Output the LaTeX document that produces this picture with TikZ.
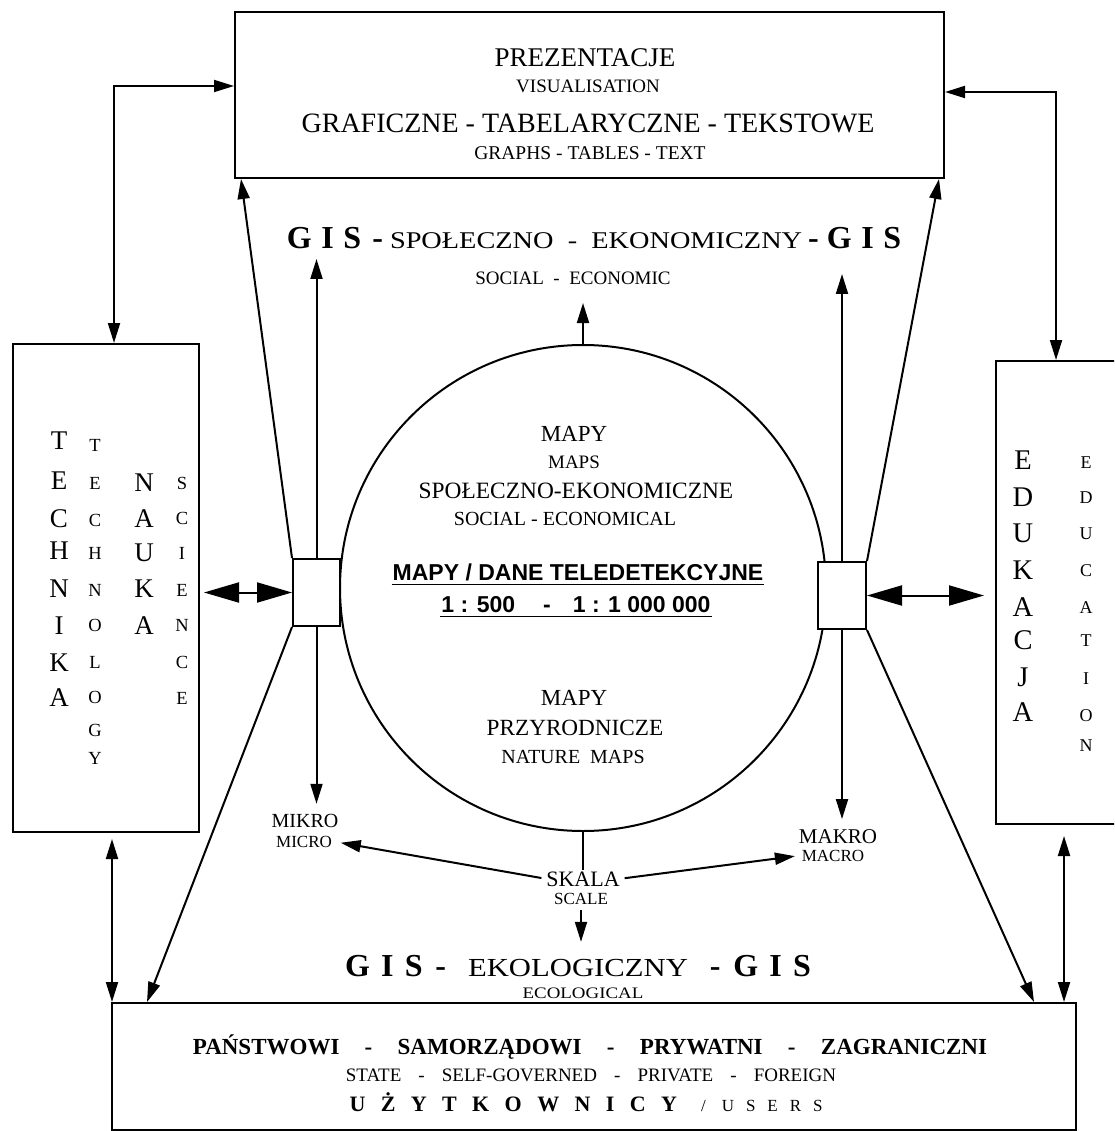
\documentclass[tikz,border=0pt]{standalone}
\usepackage{fontspec}
\setmainfont{Liberation Serif}
\newfontfamily\sansbold{Liberation Sans}
\newfontfamily\wideserif[FakeStretch=1.18]{Liberation Serif}
\newfontfamily\spacedserif[LetterSpace=70]{Liberation Serif}
\usetikzlibrary{positioning,arrows.meta}

\newcommand{\fs}[1]{\fontsize{#1}{#1}\selectfont}

\begin{document}
\begin{tikzpicture}[x=1pt,y=-1pt,line width=2pt,>={Triangle[length=20pt,width=12pt]},
  box/.style={draw,line width=2pt,inner sep=0pt},
  lbl/.style={inner sep=0pt,anchor=base,text depth=0pt},
  fat/.style={{Triangle[length=35pt,width=20pt]}-{Triangle[length=35pt,width=20pt]}}]
\useasboundingbox (0,0) rectangle (1114,1131);
\clip (0,0) rectangle (1114,1131);
% boxes
\node[box,minimum width=709pt,minimum height=166pt] (top) at (589.5,95) {};
\node[box,minimum width=186pt,minimum height=488pt] (tech) at (106,588) {};
\node[box,minimum width=120pt,minimum height=463pt] (edu) at (1056,592.5) {};
\node[box,minimum width=964pt,minimum height=127pt] (users) at (594,1066.5) {};
\node[draw,circle,minimum size=486pt,inner sep=0pt] (circ) at (583,588) {};
\node[box,fill=white,minimum width=47pt,minimum height=67pt] (lhub) at (316.5,592.5) {};
\node[box,fill=white,minimum width=48pt,minimum height=67pt] (rhub) at (842,595.5) {};
% top box
\node[lbl,font=\fs{27}] (prez) at (585,67) {PREZENTACJE};
\node[lbl,font=\fs{19}] (vis) at (588,93) {VISUALISATION};
\node[lbl,font=\fs{28}] (graf) at (588,132.5) {GRAFICZNE - TABELARYCZNE - TEKSTOWE};
\node[lbl,font=\fs{19.5}] (graphs) at (590,159.5) {GRAPHS - TABLES - TEXT};
% GIS lines
\node[lbl] (gisup) at (594,249) {{\fs{32}\bfseries G\hspace{.3em}I\hspace{.3em}S\hspace{.35em}-}\hspace{7pt}{\wideserif\fs{24}SPOŁECZNO\ \ -\ \ EKONOMICZNY}\hspace{6pt}{\fs{32}\bfseries -\hspace{.25em}G\hspace{.3em}I\hspace{.3em}S}};
\node[lbl,font=\fs{19}] (soc) at (573,285) {SOCIAL\ \ -\ \ ECONOMIC};
\node[lbl] (ekol) at (578,976) {{\fs{32}\bfseries G\hspace{.35em}I\hspace{.35em}S\hspace{.4em}-}\hspace{22pt}{\wideserif\fs{26}EKOLOGICZNY}\hspace{22pt}{\fs{32}\bfseries -\hspace{.4em}G\hspace{.35em}I\hspace{.35em}S}};
\node[lbl,font=\wideserif\fs{16}] (ecol) at (583,998) {ECOLOGICAL};
% circle
\node[lbl,font=\fs{23}] (mapy1) at (574,441) {MAPY};
\node[lbl,font=\fs{19}] (maps) at (574,468) {MAPS};
\node[lbl,font=\fs{23.4}] (spol) at (576,498) {SPOŁECZNO-EKONOMICZNE};
\node[lbl,font=\fs{20}] (socl) at (565,525) {SOCIAL - ECONOMICAL};
\node[lbl,font=\sansbold\bfseries\fs{23}] (tele) at (578,580) {MAPY / DANE TELEDETEKCYJNE};
\node[lbl,font=\sansbold\bfseries\fs{23}] (range) at (576,612) {1 : 500\hspace{28pt}-\hspace{22pt}1 : 1 000 000};
\draw[line width=1.6pt] ([yshift=-3.5pt]tele.south west) -- ([yshift=-3.5pt]tele.south east);
\draw[line width=1.6pt] ([yshift=-3.5pt]range.south west) -- ([yshift=-3.5pt]range.south east);
\node[lbl,font=\fs{23}] (mapy2) at (574,705) {MAPY};
\node[lbl,font=\fs{23.2}] (przyr) at (575,735) {PRZYRODNICZE};
\node[lbl,font=\fs{20}] (nature) at (573,763) {NATURE\ \ MAPS};
% scale
\node[lbl,font=\fs{20}] (mikro) at (305,827) {MIKRO};
\node[lbl,font=\fs{17}] (micro) at (304,847) {MICRO};
\node[lbl,font=\fs{21}] (makro) at (838,843) {MAKRO};
\node[lbl,font=\fs{17}] (macro) at (833,861) {MACRO};
\node[lbl,font=\fs{22}] (skala) at (583,886) {SKALA};
\node[lbl,font=\fs{17}] (scale) at (581,904) {SCALE};
% users box
\node[lbl,font=\fs{23}\bfseries] (who) at (590,1054) {PAŃSTWOWI\hspace{1.1em}-\hspace{1.1em}SAMORZĄDOWI\hspace{1.1em}-\hspace{1.1em}PRYWATNI\hspace{1.1em}-\hspace{1.1em}ZAGRANICZNI};
\node[lbl,font=\fs{19}] (state) at (591,1081) {STATE\hspace{.9em}-\hspace{.9em}SELF-GOVERNED\hspace{.9em}-\hspace{.9em}PRIVATE\hspace{.9em}-\hspace{.9em}FOREIGN};
\node[lbl] (uzyt) at (586,1111) {{\spacedserif\bfseries\fs{22}UŻYTKOWNICY}\hspace{24pt}{\spacedserif\fs{17}/ USERS}};
% side columns
\foreach \l/\y in {T/440,E/480,C/518,H/550,N/588,I/625,K/662,A/697}
  \node[lbl,font=\fs{27}] (technika-\y) at (59,\y+9) {\l};
\foreach \l/\y in {T/445,E/483,C/520,H/553,N/590,O/625,L/662,O/697,G/730,Y/758}
  \node[lbl,font=\fs{18.5}] (technology-\y) at (95,\y+6) {\l};
\foreach \l/\y in {N/482,A/518,U/552,K/588,A/625}
  \node[lbl,font=\fs{27}] (nauka-\y) at (144,\y+9) {\l};
\foreach \l/\y in {S/483,C/518,I/553,E/590,N/625,C/662,E/698}
  \node[lbl,font=\fs{18.5}] (science-\y) at (182,\y+6) {\l};
\foreach \l/\y in {E/460,D/497,U/533,K/570,A/607,C/640,J/677,A/712}
  \node[lbl,font=\fs{28.5}] (edukacja-\y) at (1023,\y+9.5) {\l};
\foreach \l/\y in {E/462,D/497,U/533,C/570,A/607,T/640,I/678,O/715,N/745}
  \node[lbl,font=\fs{18}] (education-\y) at (1086,\y+6) {\l};
% connectors
\draw[<->] ([yshift=9pt]top.west) -| ([xshift=8pt]tech.north);
\draw[<->] ([yshift=3pt]top.east) -| (edu.north);
\draw[<->,shorten <=6pt] ([xshift=6pt]tech.south) -- ([xshift=6pt]tech.south |- users.north);
\draw[<->,shorten <=11pt] ([xshift=8pt]edu.south) -- ([xshift=8pt]edu.south |- users.north);
\draw[fat,shorten <=4pt] (tech.east |- lhub.west) -- (lhub.west);
\draw[fat,shorten >=11pt] (rhub.east) -- (edu.west |- rhub.east);
\draw[->] (lhub.north west) -- ([xshift=7pt]top.south west);
\draw[->] (rhub.north east) -- ([xshift=-6pt]top.south east);
\draw[->] (lhub.south west) -- ([xshift=36pt]users.north west);
\draw[->] (rhub.south east) -- ([xshift=-43pt]users.north east);
\draw[->,shorten >=9pt] (lhub.north) -- (lhub.north |- gisup.south);
\draw[->,shorten >=24pt] (rhub.north) -- (rhub.north |- gisup.south);
\draw[->,shorten >=17pt] (circ.north) -- (circ.north |- soc.south);
\draw[->,shorten >=9pt] (lhub.south) -- (lhub.south |- mikro.north);
\draw[->,shorten >=9pt] (rhub.south) -- (rhub.south |- makro.north);
\draw (circ.south) -- (skala.north);
\draw[->,shorten <=4pt,shorten >=8pt] (skala.west) -- (micro.east);
\draw[->,shorten <=4pt,shorten >=6pt] (skala.east) -- (macro.west);
\draw[->,shorten <=5pt,shorten >=12pt] (scale.south) -- (scale.south |- ekol.north);
\end{tikzpicture}
\end{document}
